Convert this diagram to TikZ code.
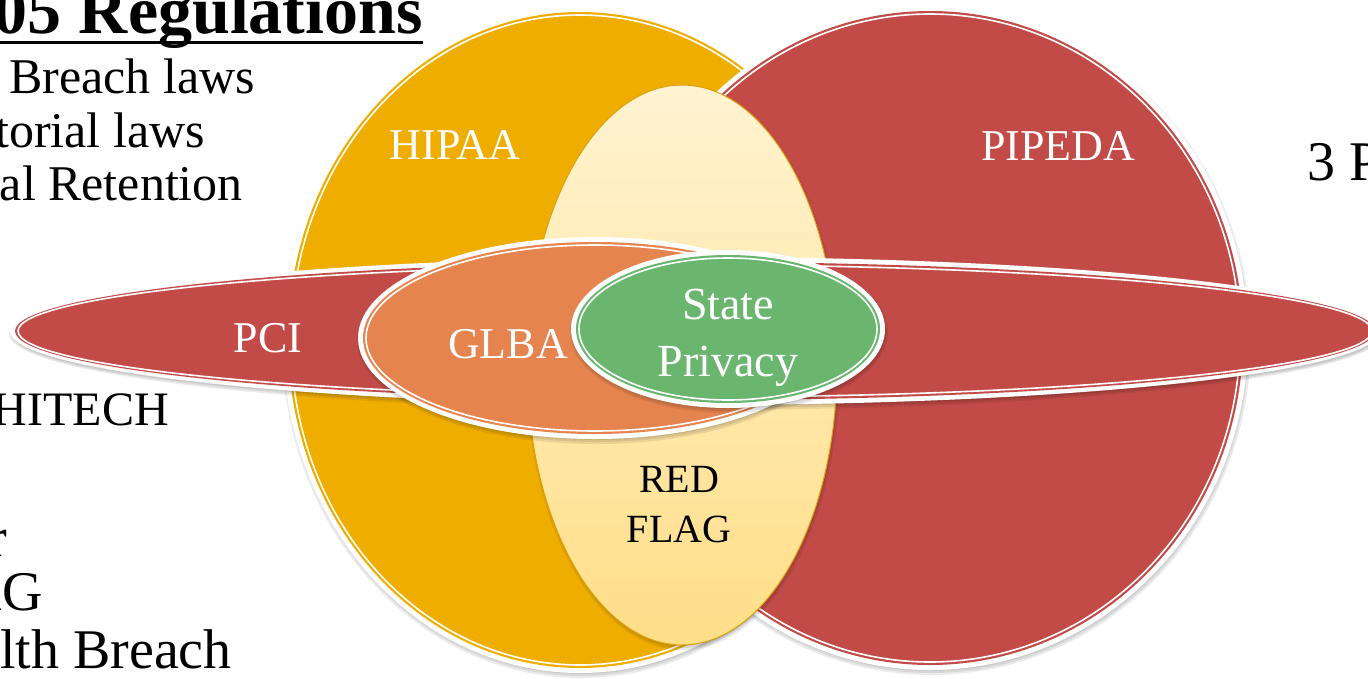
\documentclass[tikz,border=0pt]{standalone}
\usepackage{fontspec}
\setmainfont{Liberation Serif}
\usetikzlibrary{positioning}
\definecolor{cgold}{HTML}{EFAD00}
\definecolor{cred}{HTML}{C24B48}
\definecolor{corange}{HTML}{E5844F}
\definecolor{cgreen}{HTML}{6BB66E}
\definecolor{cpaletop}{HTML}{FFF3D1}
\definecolor{cpalebot}{HTML}{FFDE88}
\definecolor{cpaleline}{HTML}{DCA10A}
\tikzset{
  lbl/.style={text=white, inner sep=0pt, align=center, font=\fontsize{44}{52}\selectfont},
  side/.style={inner sep=0pt, anchor=base east, font=\fontsize{50}{54}\selectfont},
  bigside/.style={side, font=\fontsize{56}{60}\selectfont},
  title/.style={inner sep=0pt, anchor=base east, font=\fontsize{68}{72}\selectfont\bfseries},
}

\begin{document}
\begin{tikzpicture}[x=1pt, y=-1pt]
  \useasboundingbox (0,0) rectangle (1368,678);
  \clip (0,0) rectangle (1368,678);
  \foreach \cx/\cy/\rx/\ry/\col in {580/340/297/333/cgold, 930/338/318/332/cred} {
    \foreach \k in {0,2,4} \fill[black, opacity=.08] (\cx+1,\cy+3) ellipse [x radius=\rx+\k-2, y radius=\ry+\k-2];
    \fill[white] (\cx,\cy) ellipse [x radius=\rx, y radius=\ry];
    \fill[\col] (\cx,\cy) ellipse [x radius=\rx-5, y radius=\ry-5];
    \draw[white, line width=1.6] (\cx,\cy) ellipse [x radius=\rx-8, y radius=\ry-8];
  }
  \foreach \k in {0,2,4} \fill[black, opacity=.08] (683,368) ellipse [x radius=153+\k, y radius=278+\k];
  \shade[top color=cpaletop, bottom color=cpalebot] (682,365) ellipse [x radius=155, y radius=280];
  \draw[cpaleline, line width=1] (682,365) ellipse [x radius=155, y radius=280];
  \foreach \cx/\cy/\rx/\ry/\col in {695/331/685/74/cred, 595/338/237/101/corange, 728/329/157/79/cgreen} {
    \foreach \k in {0,2,4} \fill[black, opacity=.08] (\cx+1,\cy+3) ellipse [x radius=\rx+\k-2, y radius=\ry+\k-2];
    \fill[white] (\cx,\cy) ellipse [x radius=\rx, y radius=\ry];
    \fill[\col] (\cx,\cy) ellipse [x radius=\rx-5, y radius=\ry-5];
    \draw[white, line width=1.6] (\cx,\cy) ellipse [x radius=\rx-8, y radius=\ry-8];
  }
  \node[lbl, anchor=base] (hipaa) at (455,159) {HIPAA};
  \node[lbl, anchor=base] (pipeda) at (1058,160) {PIPEDA};
  \node[lbl, anchor=base] (pci) at (268,352) {PCI};
  \node[lbl, anchor=base] (glba) at (508,358) {GLBA};
  \node[lbl, font=\fontsize{46}{57}\selectfont] (state) at (728,338) {State\\Privacy};
  \node[lbl, text=black, font=\fontsize{40}{50}\selectfont] (redflag) at (679,505) {RED\\FLAG};
  \node[title] (title) at (423,33) {05 Regulations};
  \draw[line width=3] ([yshift=-9pt]title.base west) -- ([yshift=-9pt]title.base east);
  \node[side] (breach) at (255,93) {Breach laws};
  \node[side] (torial) at (205,147) {torial laws};
  \node[side] (retention) at (243,200) {al Retention};
  \node[side, font=\fontsize{48}{54}\selectfont] (hitech) at (169,425) {HITECH};
  \node[bigside] (rfrag) at (7,556) {r};
  \node[bigside] (ag) at (43,610) {AG};
  \node[bigside] (health) at (232,668) {lth Breach};
  \node[bigside, anchor=base west] (three) at (1307,180) {3 P};
\end{tikzpicture}
\end{document}
